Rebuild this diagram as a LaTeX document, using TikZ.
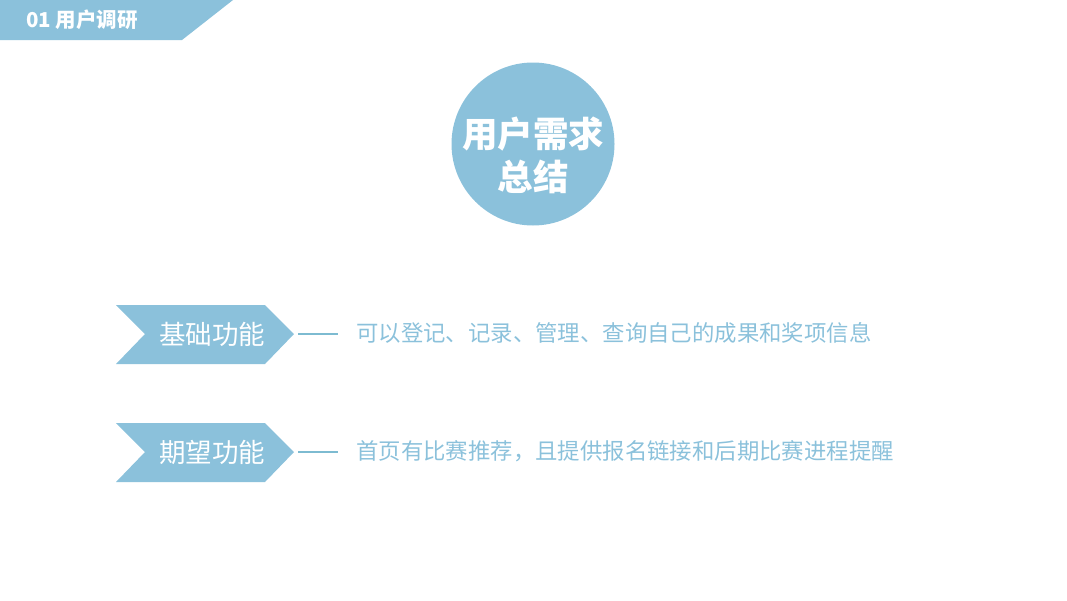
\documentclass[tikz,border=0pt]{standalone}
\usepackage{fontspec}
\setmainfont{Noto Sans CJK SC}
\usetikzlibrary{positioning, calc}
\definecolor{skyBlue}{HTML}{8BC1DB}
\definecolor{lineBlue}{HTML}{7DBBD1}
\tikzset{
    bannerFill/.style={
        fill=skyBlue
    },
    bannerText/.style={
        text=white,
        anchor=west,
        inner sep=0pt,
        font=\fontsize{20.5}{24}\selectfont\bfseries
    },
    hubCircle/.style={
        circle,
        fill=skyBlue,
        inner sep=0pt,
        minimum size=163pt
    },
    hubText/.style={
        text=white,
        align=center,
        inner sep=0pt,
        font=\fontsize{35.5}{43}\selectfont\bfseries
    },
    chevFill/.style={
        fill=skyBlue
    },
    chevText/.style={
        text=white,
        inner sep=0pt,
        font=\fontsize{26.5}{30}\selectfont
    },
    linkLine/.style={
        draw=lineBlue,
        line width=1.2pt
    },
    itemText/.style={
        text=skyBlue,
        anchor=west,
        inner sep=0pt,
        font=\fontsize{22.4}{26}\selectfont
    }
}

\begin{document}
\begin{tikzpicture}[x=1pt, y=-1pt]

        % Page frame
        \useasboundingbox (0,0) rectangle (1067,600);

        % Section banner (top left)
        \fill[bannerFill] (0,0) -- (233,0) -- (182,40) -- (0,40) -- cycle;
        \node[bannerText] (banner) at (26,20) {01 用户调研};

        % Central circle
        \node[hubCircle] (hub) at (533,144) {};
        \node[hubText] (hubLabel) at (533,155) {用户需求\\总结};

        % Macro for a chevron tag with its link line
        % #1 = centre y, #2 = name, #3 = label
        \def\drawChevron#1#2#3{
            \fill[chevFill] (116,#1-29) -- (265,#1-29) -- (294,#1) -- (265,#1+30)
                -- (116,#1+30) -- (145,#1) -- cycle;
            \coordinate (#2Tip) at (294,#1);
            \node[chevText] (#2) at (212,#1) {#3};
        }

        % Tags
        \drawChevron{334}{basic}{基础功能}
        \drawChevron{452}{wish}{期望功能}

        % Descriptions
        \node[itemText] (basicText) at (356,333) {可以登记、记录、管理、查询自己的成果和奖项信息};
        \node[itemText] (wishText) at (356,451) {首页有比赛推荐，且提供报名链接和后期比赛进程提醒};

        % Link lines
        \draw[linkLine] ([xshift=4pt]basicTip) -- ([xshift=-18pt]basicText.west |- basicTip);
        \draw[linkLine] ([xshift=4pt]wishTip) -- ([xshift=-18pt]wishText.west |- wishTip);

    \end{tikzpicture}
\end{document}
